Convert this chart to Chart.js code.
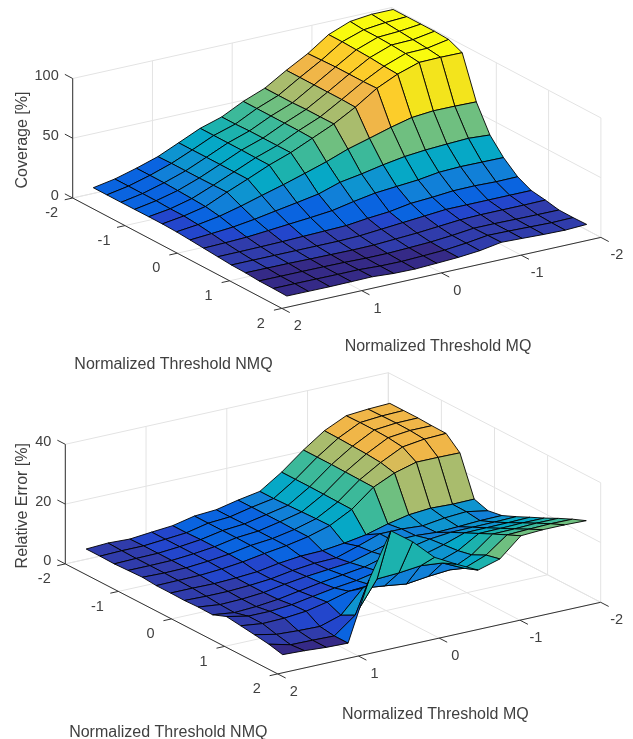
<!DOCTYPE html>
<html>
<head>
<meta charset="utf-8">
<title>Coverage and relative error</title>
<script src="https://cdn.jsdelivr.net/npm/chart.js@4"></script>
<style>
    html, body { margin: 0; padding: 0; background: #fff; }
    canvas { display: block; position: absolute; left: 0; }
    #coverageChart { top: 0; }
    #errorChart { top: 369px; }
</style>
</head>
<body>
<canvas id="coverageChart" width="633" height="380"></canvas>
<canvas id="errorChart" width="633" height="370"></canvas>
<script>
// Grid positions of the surface (same for both plots)
const nmqValues = [-1.85, -1.59, -1.32, -1.06, -0.79, -0.53, -0.26, 0, 0.26, 0.53, 0.79, 1.06, 1.32, 1.59, 1.85];
const mqValues = [-1.92, -1.65, -1.38, -1.11, -0.85, -0.58, -0.31, -0.04, 0.23, 0.50, 0.77, 1.03, 1.30, 1.57, 1.84];

// Tick labels
const nmqTicks = [-2, -1, 0, 1, 2];
const mqTicks = [-2, -1, 0, 1, 2];
const coverageTicks = [0, 50, 100];
const errorTicks = [0, 20, 40];

// Coverage [%], one row per NMQ value, one column per MQ value
const coverageValues = [
    [103, 103, 101, 94, 82, 72, 61, 54, 45, 39.5, 31.4, 23.7, 18, 13, 9.7],
    [103, 102, 100, 94, 82.5, 72, 61, 54, 45, 39.5, 31.4, 24, 18, 13, 9.7],
    [103, 101, 100, 93.5, 83, 72, 61, 54, 45.5, 39.5, 31.5, 24, 18, 13, 9.7],
    [103, 100, 99.5, 93, 83, 72, 61.5, 54, 45.5, 39.5, 31.5, 24, 17.5, 13, 9.8],
    [102.4, 99, 98.6, 92, 83, 72, 61.5, 54, 45.5, 39.3, 31.5, 24.2, 17, 12.5, 9.9],
    [97.3, 97.5, 97.2, 91.4, 83.4, 71.6, 61.6, 53.6, 45.6, 39.2, 31.5, 24.4, 16.4, 12.5, 9.9],
    [62.4, 62.8, 62.9, 61.3, 57, 51.8, 46.8, 40.2, 34.5, 29, 24, 19, 14.5, 11.5, 9.5],
    [40.7, 41.9, 41.1, 40.1, 38.5, 35.6, 32, 29, 23.2, 20, 17, 14, 11.5, 10, 8.7],
    [27.8, 28, 28.2, 27.5, 25, 23.5, 22, 18.9, 15.3, 13.5, 12, 10.5, 9, 8.3, 7.8],
    [18, 17.8, 18.4, 18.2, 16.7, 15.6, 12.6, 11.1, 9, 8.5, 8, 7.5, 7.2, 7, 6.9],
    [12.5, 12.5, 12.5, 12.5, 12.5, 11, 9.5, 8, 6.5, 6, 6, 6, 6, 6, 6],
    [10.7, 10.5, 10.5, 10.5, 10, 8.5, 7, 6, 5, 4.8, 5, 5.2, 5.5, 5.6, 5.7],
    [8.4, 8.5, 8.7, 9, 9, 7, 5.5, 4.7, 4, 4, 4.5, 4.7, 4.8, 4.8, 4.9],
    [8.3, 8, 8.5, 9, 9.3, 6.8, 5, 4.2, 3.5, 3.7, 4.6, 4.6, 4.7, 4.8, 4.8],
    [8.6, 7.8, 8.2, 8.9, 9.5, 6.5, 4.9, 4, 3.2, 3.5, 4.7, 4.5, 4.3, 4.4, 4.5]
];

// Relative error [%], same layout
const errorValues = [
    [31.6, 31.3, 30.7, 27.3, 22.4, 16.6, 11.8, 10.5, 8.9, 8.4, 6.8, 6.2, 5.5, 5.8, 5.4],
    [31.6, 31.4, 30.8, 27.2, 22.4, 16.6, 11.8, 10.5, 8.9, 8.4, 6.8, 6.2, 5.6, 5.6, 5.4],
    [31.6, 31.5, 30.8, 27, 22.4, 16.6, 12, 10.5, 9, 8.4, 7, 6.2, 5.6, 5.5, 5.3],
    [31.4, 31.4, 30.6, 26.8, 22.3, 16.5, 12.2, 10.5, 9, 8.4, 7, 6.2, 5.6, 5.5, 5.5],
    [31.3, 31, 30, 26.4, 22.2, 16.4, 12.4, 10.4, 9, 8.3, 7, 6.2, 5.6, 5.5, 5.7],
    [27.2, 27.3, 27.3, 25.3, 22.1, 16.3, 12.5, 10.4, 9, 8, 6.8, 6, 5.5, 5.4, 5.3],
    [14.2, 14.1, 14.4, 13.8, 12.3, 10.3, 9.1, 8.2, 8, 7.2, 6, 5.5, 5.2, 5.3, 5.3],
    [12.7, 14, 13.5, 12.5, 13, 13, 10.5, 8.2, 8, 7.2, 6, 5.4, 5, 5, 5.2],
    [13.5, 13.4, 13, 12.7, 13.2, 13, 11, 9, 8.3, 7.6, 6.6, 5.4, 4.8, 4.6, 5.4],
    [15.6, 15.4, 15.3, 15.2, 14.5, 13, 12, 10, 9, 8, 6.8, 5.6, 4.8, 4.4, 5.3],
    [17.8, 17.6, 17.5, 17.4, 15, 13, 12, 11, 9.5, 8.6, 7.4, 6.2, 5.6, 5.6, 7.1],
    [20, 20, 19.8, 19.7, 15.5, 13, 12, 11.5, 10.5, 10, 8, 6.5, 5.8, 5.6, 6.5],
    [22.3, 22.3, 22, 21.9, 16.5, 13.1, 12.5, 11.6, 12.6, 13.4, 6, 3.8, 4, 4.4, 5.9],
    [24.5, 24.6, 24.4, 24.1, 18.9, 16.1, 19.5, 20.2, 19.4, 19, 8.5, 3.1, 3.3, 3.4, 5.2],
    [26.4, 26.6, 26.6, 26.2, 20, 17.9, 21.5, 25.4, 32.2, 37.5, 22.7, 3.1, 3.3, 3.8, 4.1]
];

// Flat colors of the surface, and the value at which each next color starts
const surfaceColors = [
    '#352a87', '#303cab', '#2346cc', '#0a64e0', '#1180d8', '#0e94d0', '#06a8c6', '#1cb2ae',
    '#3cb99a', '#6fbf80', '#a9bc6d', '#d8bb58', '#f0b648', '#fccd2a', '#f3e41c', '#f9fb0e'
];
const coverageBreaks = [5.8, 11.5, 12.8, 24, 30, 37, 44, 50, 56, 65, 73, 80, 86, 94.5, 98.5];
const errorBreaks = [3.44, 5.9, 8.3, 10.75, 13.2, 15.6, 18.1, 20.5, 22.9, 25.4, 27.8, 30.25, 32.7, 35, 37.6];

function colorFor(z, breaks) {
    let level = 0;
    while (level < breaks.length && z >= breaks[level]) level++;
    return surfaceColors[level];
}

// Line dataset helper, everything on the chart is one of these
function lineSet(points, color, width) {
    return {
        data: points, showLine: true, fill: false, borderColor: color, borderWidth: width,
        pointRadius: 0, pointHoverRadius: 0, clip: false, tension: 0
    };
}

function buildPlot(canvasId, cfg) {
    // Fixed view of the 3D box: back corner is NMQ=-2, MQ=-2
    const project = (nmq, mq, z) => ({
        x: cfg.backX + cfg.nmqDx * (nmq + 2) - cfg.mqDx * (mq + 2),
        y: cfg.backY + cfg.nmqDy * (nmq + 2) + cfg.mqDy * (mq + 2) - cfg.zScale * z
    });
    const zTop = cfg.zTicks[cfg.zTicks.length - 1];
    const datasets = [];
    const grid = '#e3e3e3', axis = '#333333';

    // Surface, front cells first because Chart.js paints the first dataset last
    for (let i = cfg.values.length - 2; i >= 0; i--) {
        for (let j = cfg.values[i].length - 2; j >= 0; j--) {
            const v = cfg.values;
            const quad = [
                project(nmqValues[i], mqValues[j], v[i][j]),
                project(nmqValues[i + 1], mqValues[j], v[i + 1][j]),
                project(nmqValues[i + 1], mqValues[j + 1], v[i + 1][j + 1]),
                project(nmqValues[i], mqValues[j + 1], v[i][j + 1]),
                project(nmqValues[i], mqValues[j], v[i][j])
            ];
            const cell = lineSet(quad, '#000000', 0.9);
            cell.fill = 'shape';
            cell.backgroundColor = colorFor(v[i][j], cfg.breaks);
            cell.borderJoinStyle = 'round';
            datasets.push(cell);
        }
    }

    // Axis lines and tick marks
    datasets.push(lineSet([project(-2, 2, 0), project(-2, 2, zTop)], axis, 1));
    datasets.push(lineSet([project(-2, 2, 0), project(2, 2, 0)], axis, 1));
    datasets.push(lineSet([project(2, 2, 0), project(2, -2, 0)], axis, 1));
    nmqTicks.forEach(t => datasets.push(lineSet([project(t, 2, 0), project(t, 2.1, 0)], axis, 1)));
    mqTicks.forEach(t => datasets.push(lineSet([project(2, t, 0), project(2.15, t, 0)], axis, 1)));
    cfg.zTicks.forEach(t => datasets.push(lineSet([project(-2, 2, t), project(-2.15, 2, t)], axis, 1)));

    // Back walls and floor grid
    nmqTicks.forEach(t => {
        datasets.push(lineSet([project(t, 2, 0), project(t, -2, 0)], grid, 1));
        datasets.push(lineSet([project(t, -2, 0), project(t, -2, zTop)], grid, 1));
    });
    mqTicks.forEach(t => {
        datasets.push(lineSet([project(2, t, 0), project(-2, t, 0)], grid, 1));
        datasets.push(lineSet([project(-2, t, 0), project(-2, t, zTop)], grid, 1));
    });
    cfg.zTicks.forEach(t => {
        datasets.push(lineSet([project(-2, 2, t), project(-2, -2, t)], grid, 1));
        datasets.push(lineSet([project(-2, -2, t), project(2, -2, t)], grid, 1));
    });

    // Tick labels and titles
    const textPlugin = {
        id: 'plotText',
        afterDraw(chart) {
            const ctx = chart.ctx, sx = chart.scales.x, sy = chart.scales.y;
            const put = (text, x, y, align, angle) => {
                ctx.save();
                ctx.translate(sx.getPixelForValue(x), sy.getPixelForValue(y));
                if (angle) ctx.rotate(angle);
                ctx.textAlign = align || 'center';
                ctx.textBaseline = 'middle';
                ctx.fillText(text, 0, 1.5);
                ctx.restore();
            };
            ctx.save();
            ctx.fillStyle = '#404040';
            ctx.font = '14.5px "Liberation Sans", Arial, sans-serif';
            cfg.zTicks.forEach(t => {
                const p = project(-2, 2, t);
                put(String(t), p.x - 14, p.y - 4, 'right');
            });
            nmqTicks.forEach(t => {
                const p = project(t, 2, 0);
                put(String(t), p.x - 21, p.y + 13.7);
            });
            mqTicks.forEach(t => {
                const p = project(2, t, 0);
                put(String(t), p.x + 16, p.y + 16.5);
            });
            ctx.font = '16px "Liberation Sans", Arial, sans-serif';
            put('Normalized Threshold NMQ', cfg.nmqTitle[0], cfg.nmqTitle[1]);
            put('Normalized Threshold MQ', cfg.mqTitle[0], cfg.mqTitle[1]);
            put(cfg.zTitle, cfg.zTitlePos[0], cfg.zTitlePos[1], 'center', -Math.PI / 2);
            ctx.restore();
        }
    };

    return new Chart(document.getElementById(canvasId).getContext('2d'), {
        type: 'scatter',
        data: { datasets: datasets },
        options: {
            responsive: false,
            animation: false,
            events: [],
            layout: { padding: 0 },
            plugins: { legend: { display: false }, tooltip: { enabled: false } },
            scales: {
                x: { type: 'linear', display: false, min: 0, max: 633 },
                y: { type: 'linear', display: false, min: cfg.pageTop, max: cfg.pageBottom, reverse: true }
            }
        },
        plugins: [textPlugin]
    });
}

buildPlot('coverageChart', {
    values: coverageValues, zTicks: coverageTicks, zTitle: 'Coverage [%]',
    backX: 391.7, backY: 127, nmqDx: 52.3, nmqDy: 27.6, mqDx: 79.75, mqDy: 17.75, zScale: 1.195,
    breaks: coverageBreaks,
    pageTop: 0, pageBottom: 380,
    nmqTitle: [173.5, 363], mqTitle: [438, 345.5], zTitlePos: [21, 140]
});

buildPlot('errorChart', {
    values: errorValues, zTicks: errorTicks, zTitle: 'Relative Error [%]',
    backX: 388.3, backY: 492.3, nmqDx: 53.1, nmqDy: 27.5, mqDx: 80.75, mqDy: 17.9, zScale: 2.99,
    breaks: errorBreaks,
    pageTop: 369, pageBottom: 739,
    nmqTitle: [168.3, 730.7], mqTitle: [435.3, 713.3], zTitlePos: [20.7, 505.7]
});
</script>
</body>
</html>
